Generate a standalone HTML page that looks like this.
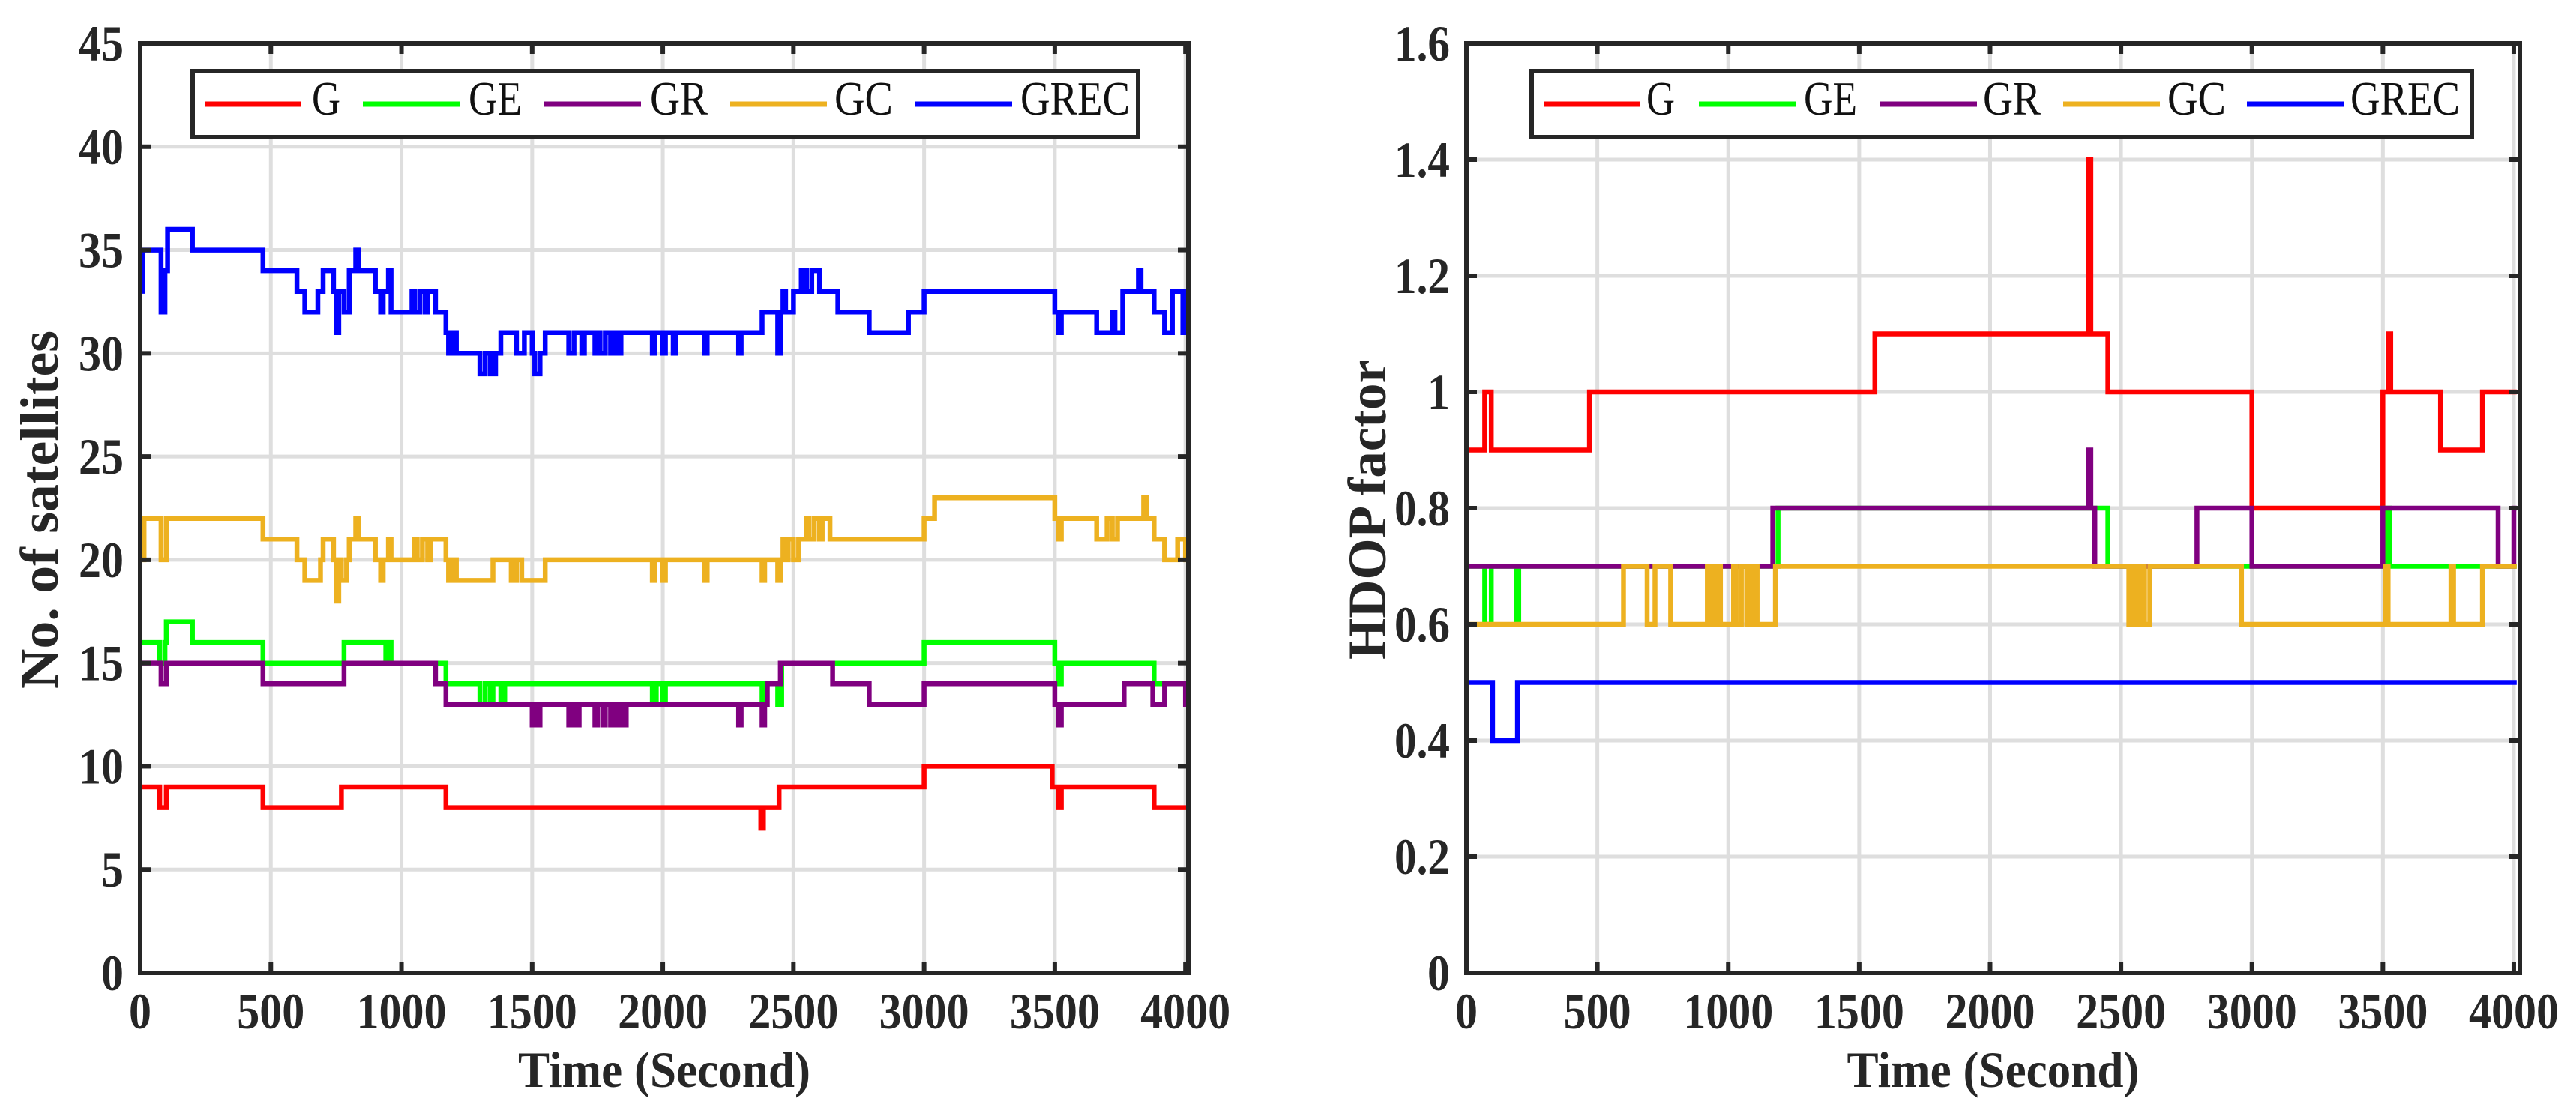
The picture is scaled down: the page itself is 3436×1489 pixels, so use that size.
<!DOCTYPE html>
<html><head><meta charset="utf-8">
<style>
html,body{margin:0;padding:0;background:#fff;}
svg{display:block;font-family:"Liberation Serif",serif;}
</style></head>
<body>
<svg id="fig" width="3436" height="1489" viewBox="0 0 3436 1489" xmlns="http://www.w3.org/2000/svg"></svg>
<script>
// ---- Left chart data: number of satellites ----
const satG_t = [0,75,100,470,770,1170,2375,2385,2445,3000,3490,3515,3525,3880,4011];
const satG_v = [9,8,9,8,9,8,7,8,9,10,9,8,9,8,8];
const satGE_t = [0,75,95,100,200,470,780,940,950,960,1170,1300,1320,1340,1350,1380,1395,1960,1975,2000,2010,2380,2395,2440,2455,3000,3500,3515,3525,3880,4011];
const satGE_v = [16,15,16,17,16,15,16,15,16,15,14,13,14,13,14,13,14,13,14,13,14,13,14,13,15,16,15,14,15,14,14];
const satGR_t = [0,80,100,470,780,1130,1170,1500,1510,1520,1530,1640,1650,1670,1680,1740,1750,1770,1780,1800,1810,1830,1840,1850,1860,2290,2300,2380,2390,2400,2450,2650,2790,3000,3500,3515,3525,3765,3875,3920,4000,4011];
const satGR_v = [15,14,15,14,15,14,13,12,13,12,13,12,13,12,13,12,13,12,13,12,13,12,13,12,13,12,13,12,13,14,15,14,13,14,13,12,13,14,13,14,13,13];
const satGC_t = [0,15,80,100,470,600,630,690,700,740,750,760,770,790,800,825,835,900,920,930,950,960,1050,1060,1080,1100,1110,1170,1180,1200,1210,1350,1420,1440,1460,1550,1960,1970,2000,2010,2160,2170,2380,2390,2440,2450,2460,2470,2480,2500,2520,2550,2560,2580,2600,2610,2640,3000,3040,3500,3515,3525,3660,3700,3720,3740,3840,3850,3880,3920,3970,4000,4011];
const satGC_v = [20,22,20,22,21,20,19,20,21,20,18,20,19,20,21,22,21,20,19,20,21,20,21,20,21,20,21,20,19,20,19,20,19,20,19,20,19,20,19,20,19,20,19,20,19,20,21,20,21,20,21,22,21,22,21,22,21,22,23,22,21,22,21,22,21,22,23,22,21,20,21,20,20];
const satGREC_t = [0,10,80,95,105,200,470,600,630,680,700,740,750,760,780,800,825,835,900,920,930,950,960,1040,1050,1070,1090,1100,1130,1170,1180,1200,1210,1300,1320,1340,1360,1380,1440,1470,1500,1510,1530,1550,1640,1660,1690,1700,1740,1750,1760,1780,1800,1810,1830,1840,1960,1970,2000,2010,2040,2050,2160,2170,2290,2300,2380,2440,2450,2460,2470,2500,2530,2550,2570,2600,2670,2790,2940,3000,3500,3515,3525,3660,3720,3730,3760,3820,3830,3880,3920,3950,3990,4000,4011];
const satGREC_v = [33,35,32,34,36,35,34,33,32,33,34,33,31,33,32,34,35,34,33,32,33,34,32,33,32,33,32,33,32,31,30,31,30,29,30,29,30,31,30,31,30,29,30,31,30,31,30,31,30,31,30,31,30,31,30,31,30,31,30,31,30,31,30,31,30,31,32,30,32,33,32,33,34,33,34,33,32,31,32,33,32,31,32,31,32,31,33,34,33,32,31,33,31,33,32];

// ---- Right chart data: HDOP ----
const hdG_t = [0,70,95,470,1560,2375,2385,2450,3000,3500,3520,3530,3720,3880,4011];
const hdG_v = [0.9,1.0,0.9,1.0,1.1,1.4,1.1,1.0,0.8,1.0,1.1,1.0,0.9,1.0,1.0];
const hdGE_t = [0,70,95,190,200,1190,2450,3510,3525,4011];
const hdGE_v = [0.7,0.6,0.7,0.6,0.7,0.8,0.7,0.8,0.7,0.7];
const hdGR_t = [0,1170,2375,2385,2400,2790,3000,3500,3940,4000,4011];
const hdGR_v = [0.7,0.8,0.9,0.8,0.7,0.8,0.7,0.8,0.7,0.8,0.8];
const hdGC_t = [0,600,690,720,780,920,935,950,970,1020,1030,1050,1070,1080,1090,1100,1110,1180,2530,2545,2560,2575,2590,2610,2960,3510,3520,3760,3770,3880,4011];
const hdGC_v = [0.6,0.7,0.6,0.7,0.6,0.7,0.6,0.7,0.6,0.7,0.6,0.7,0.6,0.7,0.6,0.7,0.6,0.7,0.6,0.7,0.6,0.7,0.6,0.7,0.6,0.7,0.6,0.7,0.6,0.7,0.7];
const hdGREC_t = [0,100,195,4011];
const hdGREC_v = [0.5,0.4,0.5,0.5];

const xTicks = [0,500,1000,1500,2000,2500,3000,3500,4000];
const satTicks = [0,5,10,15,20,25,30,35,40,45];
const hdTicks = [0,0.2,0.4,0.6,0.8,1,1.2,1.4,1.6];
const seriesNames = ["G","GE","GR","GC","GREC"];
const seriesColors = ["#ff0000","#00ff00","#800080","#edb120","#0000ff"];

const NS = "http://www.w3.org/2000/svg";
const svg = document.getElementById("fig");
function mk(tag, attrs, parent){
  const e = document.createElementNS(NS, tag);
  for (const k in attrs) e.setAttribute(k, attrs[k]);
  (parent||svg).appendChild(e);
  return e;
}

function drawChart(cfg){
  const g = mk("g", {});
  
  
  const X = t => cfg.x0 + t / cfg.xmax * (cfg.x1 - cfg.x0);
  const Y = v => cfg.y1 - v / cfg.ymax * (cfg.y1 - cfg.y0);
  const grid = mk("g", {stroke:"#dedede","stroke-width":5}, g);
  
  
  xTicks.forEach(t => { if (t>0) mk("line",{x1:X(t),x2:X(t),y1:cfg.y0,y2:cfg.y1},grid); });
  cfg.yTicks.forEach(v => { if (v>0 && v<cfg.ymax) mk("line",{x1:cfg.x0,x2:cfg.x1,y1:Y(v),y2:Y(v)},grid); });
  cfg.series.forEach((s, i) => {
    let d = "M" + X(s.t[0]) + "," + Y(s.v[0]);
    for (let k = 1; k < s.t.length; k++) {
      d += " H" + X(s.t[k]).toFixed(1) + " V" + Y(s.v[k]).toFixed(1);
    }
    const p = mk("path", {d:d, fill:"none", stroke:seriesColors[i], "stroke-width":6.5, "stroke-linejoin":"miter"}, g);
    
    
  });
  const box = mk("rect", {x:cfg.x0, y:cfg.y0, width:cfg.x1-cfg.x0, height:cfg.y1-cfg.y0, fill:"none", stroke:"#262626", "stroke-width":6}, g);
  
  
  const ticks = mk("g", {stroke:"#262626","stroke-width":6}, g);
  xTicks.forEach(t => {
    mk("line",{x1:X(t),x2:X(t),y1:cfg.y1,y2:cfg.y1-14},ticks);
    mk("line",{x1:X(t),x2:X(t),y1:cfg.y0,y2:cfg.y0+14},ticks);
  });
  cfg.yTicks.forEach(v => {
    mk("line",{x1:cfg.x0,x2:cfg.x0+14,y1:Y(v),y2:Y(v)},ticks);
    mk("line",{x1:cfg.x1,x2:cfg.x1-14,y1:Y(v),y2:Y(v)},ticks);
  });
  xTicks.forEach(t => {
    const s = String(t);
    const tx = mk("text",{x:X(t), y:1372, "text-anchor":"middle", "font-size":68, "font-weight":"bold", fill:"#262626", textLength:30*s.length, lengthAdjust:"spacingAndGlyphs"}, g);
    tx.textContent = s;
    
    
  });
  cfg.yTicks.forEach(v => {
    const s = String(v);
    const w = s.replace('.', '').length*30 + (s.indexOf('.')>=0 ? 14 : 0);
    const ty = mk("text",{x:cfg.x0-22, y:Y(v)+23, "text-anchor":"end", "font-size":68, "font-weight":"bold", fill:"#262626", textLength:w, lengthAdjust:"spacingAndGlyphs"}, g);
    ty.textContent = s;
    
    
  });
  const xt = mk("text",{x:(cfg.x0+cfg.x1)/2, y:1450, "text-anchor":"middle", "font-size":68, "font-weight":"bold", fill:"#262626", textLength:390, lengthAdjust:"spacingAndGlyphs"}, g);
  xt.textContent = "Time (Second)";
  
  
  const yt = mk("text",{transform:"translate("+cfg.ytx+",680) rotate(-90)", x:0, y:0, "text-anchor":"middle", "font-size":72, "font-weight":"bold", fill:"#262626", textLength:cfg.ytLen, lengthAdjust:"spacingAndGlyphs"}, g);
  yt.textContent = cfg.ytitle;
  
  
  const lg = mk("g", {}, g);
  
  
  mk("rect",{x:cfg.lg.x0, y:95, width:cfg.lg.x1-cfg.lg.x0, height:88, fill:"#fff", stroke:"#262626", "stroke-width":6}, lg);
  const txtW = [38,71,77,78,146];
  seriesNames.forEach((n,i) => {
    const e = mk("g", {}, lg);
    
    
    mk("line",{x1:cfg.lg.lines[i], x2:cfg.lg.lines[i]+129, y1:139, y2:139, stroke:seriesColors[i], "stroke-width":7}, e);
    const t = mk("text",{x:cfg.lg.texts[i], y:153, "font-size":64, fill:"#111", textLength:txtW[i], lengthAdjust:"spacingAndGlyphs"}, e);
    t.textContent = n;
  });
}

drawChart({
  name:"satellites-chart", x0:187, x1:1585, y0:58, y1:1298, xmax:4011, ymax:45, yTicks:satTicks,
  ytitle:"No. of satellites", ytx:77, ytLen:478,
  lg:{x0:257, x1:1518, lines:[273,484,726,974,1221], texts:[416,625,867,1113,1361]},
  series:[{t:satG_t,v:satG_v},{t:satGE_t,v:satGE_v},{t:satGR_t,v:satGR_v},{t:satGC_t,v:satGC_v},{t:satGREC_t,v:satGREC_v}]
});
drawChart({
  name:"hdop-chart", x0:1956, x1:3361, y0:58, y1:1298, xmax:4023, ymax:1.6, yTicks:hdTicks,
  ytitle:"HDOP factor", ytx:1848, ytLen:400,
  lg:{x0:2043, x1:3297, lines:[2059,2266,2508,2752,2997], texts:[2196,2406,2645,2891,3135]},
  series:[{t:hdG_t,v:hdG_v},{t:hdGE_t,v:hdGE_v},{t:hdGR_t,v:hdGR_v},{t:hdGC_t,v:hdGC_v},{t:hdGREC_t,v:hdGREC_v}]
});
</script>
</body></html>
